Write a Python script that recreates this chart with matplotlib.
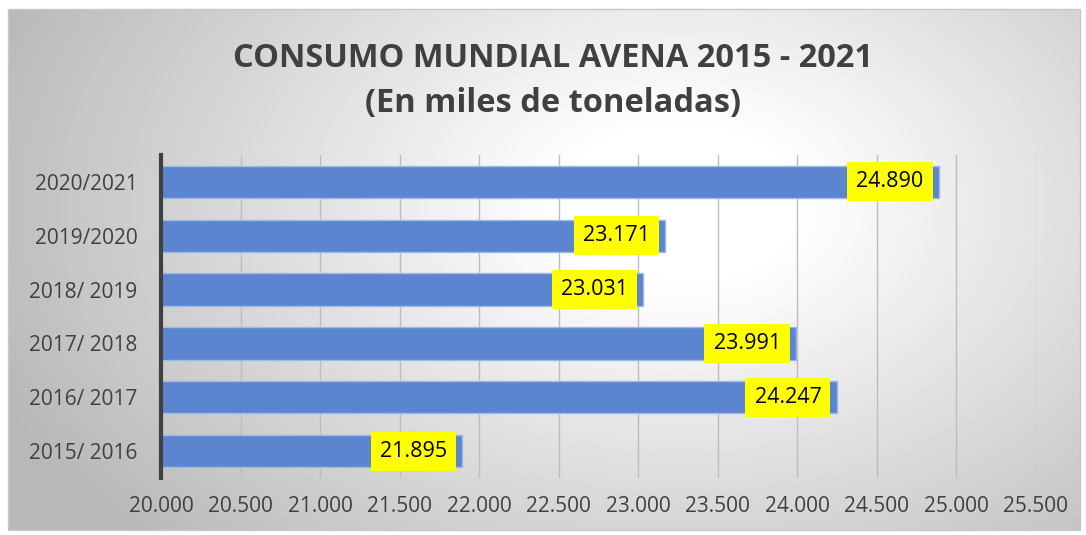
import numpy as np
import matplotlib
matplotlib.use("Agg")
import matplotlib.pyplot as plt
from matplotlib.patches import Rectangle

# data
campanas = ["2015/ 2016", "2016/ 2017", "2017/ 2018", "2018/ 2019", "2019/2020", "2020/2021"]
consumo = [21895, 24247, 23991, 23031, 23171, 24890]
etiquetas = ["21.895", "24.247", "23.991", "23.031", "23.171", "24.890"]
xticks = [20000, 20500, 21000, 21500, 22000, 22500, 23000, 23500, 24000, 24500, 25000, 25500]
xtick_labels = ["20.000", "20.500", "21.000", "21.500", "22.000", "22.500",
                "23.000", "23.500", "24.000", "24.500", "25.000", "25.500"]

plt.rcParams['font.family'] = ['Open Sans', 'DejaVu Sans']

W, H = 1086, 535
fig = plt.figure(figsize=(W / 100, H / 100), dpi=100)
fig.patch.set_facecolor("white")

# radial gray background of the chart area
bg = fig.add_axes([0, 0, 1, 1], zorder=0)
bg.set_xlim(0, W)
bg.set_ylim(H, 0)
bg.axis("off")
yy, xx = np.mgrid[0:H, 0:W]
d = np.sqrt(((xx - 680) / 620.0) ** 2 + ((yy - 200) / 420.0) ** 2)
g = 1.0 - 0.22 * np.clip(d - 0.2, 0, 1) / 0.8
img = np.dstack([g, g, g])
bg.imshow(img, extent=(8, 1080, 530, 9), aspect="auto", interpolation="bilinear")
bg.add_patch(Rectangle((8, 9), 1072, 521, fill=False, edgecolor="#c8c8c8", lw=1))

ax = fig.add_axes([161 / W, 1 - 478 / H, (1036 - 161) / W, (478 - 155) / H], zorder=1)
ax.patch.set_alpha(0)

y = np.arange(len(campanas))
ax.barh(y, [v - 20000 for v in consumo], left=20000, height=0.6,
        color="#5b86cf", edgecolor="#9fb8e6", linewidth=1, zorder=3)

for yi, v, lab in zip(y, consumo, etiquetas):
    ax.annotate(lab, xy=(v, yi), xytext=(-11, 0), textcoords="offset points",
                ha="right", va="center", fontsize=15.5, color="black", zorder=5,
                bbox=dict(boxstyle="square,pad=0.42", facecolor="#ffff00", edgecolor="none"))

ax.set_xlim(20000, 25500)
ax.set_ylim(-0.5, len(campanas) - 0.5)
ax.set_xticks(xticks)
ax.set_xticklabels(xtick_labels)
ax.set_yticks(y)
ax.set_yticklabels(campanas)
ax.tick_params(axis="both", length=0, labelsize=15, colors="#404040")
ax.tick_params(axis="x", pad=13)
ax.tick_params(axis="y", pad=17)
ax.grid(axis="x", color="#bdbdbd", lw=1, zorder=0)
for s in ["top", "right", "bottom"]:
    ax.spines[s].set_visible(False)
ax.spines["left"].set_color("#404040")
ax.spines["left"].set_linewidth(3)
ax.spines["left"].set_zorder(4)

fig.text(0.509, 0.89, "CONSUMO MUNDIAL AVENA 2015 - 2021", ha="center", va="center",
         fontsize=23.5, fontweight="bold", color="#404040")
fig.text(0.509, 0.807, "(En miles de toneladas)", ha="center", va="center",
         fontsize=23.5, fontweight="bold", color="#404040")

fig.savefig("out.png", dpi=100)
